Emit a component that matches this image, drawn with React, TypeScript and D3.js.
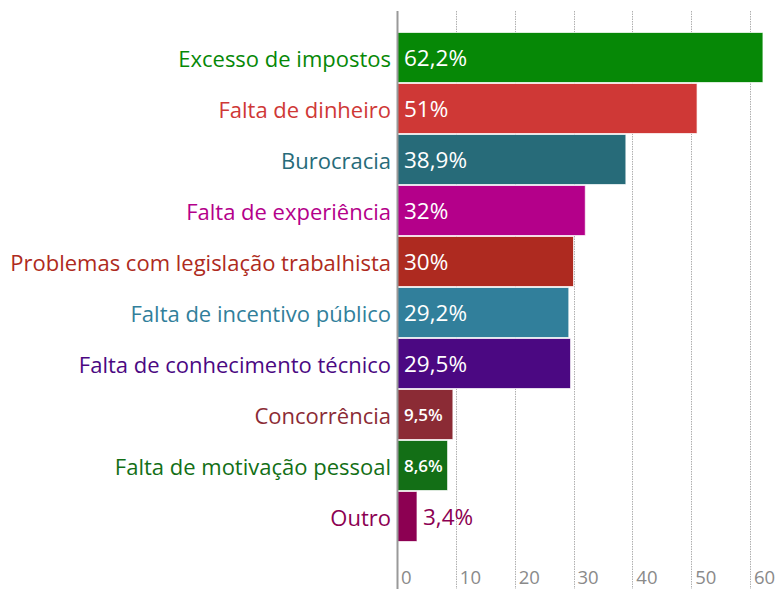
import React from "react";
import * as d3 from "d3";

const categories = [
  "Excesso de impostos",
  "Falta de dinheiro",
  "Burocracia",
  "Falta de experiência",
  "Problemas com legislação trabalhista",
  "Falta de incentivo público",
  "Falta de conhecimento técnico",
  "Concorrência",
  "Falta de motivação pessoal",
  "Outro",
];
const values = [62.2, 51, 38.9, 32, 30, 29.2, 29.5, 9.5, 8.6, 3.4];
const valueLabels = ["62,2%", "51%", "38,9%", "32%", "30%", "29,2%", "29,5%", "9,5%", "8,6%", "3,4%"];
const colors = [
  "#068806",
  "#cf3836",
  "#276b79",
  "#b4008a",
  "#ae2a20",
  "#317f9b",
  "#4b0882",
  "#8b2b35",
  "#136f16",
  "#8c0052",
];
const ticks = [0, 10, 20, 30, 40, 50, 60];

const W = 780;
const H = 589;
const FONT = "'Open Sans', sans-serif";

export default function App() {
  const x = d3.scaleLinear().domain([0, 60]).range([397, 750]);
  const y = d3
    .scaleBand<string>()
    .domain(categories)
    .range([32, 32 + 51 * categories.length])
    .padding(0);

  return (
    <svg
      width={W}
      height={H}
      style={{ position: "absolute", left: 0, top: 0, background: "#fff" }}
    >
      {ticks.slice(1).map((t) => (
        <line
          key={"g" + t}
          x1={Math.round(x(t)) + 0.5}
          x2={Math.round(x(t)) + 0.5}
          y1={11}
          y2={H}
          stroke="#b0b0b0"
          strokeWidth={1}
          strokeDasharray="1.5,1"
        />
      ))}
      {categories.map((c, i) => {
        const bw = x(values[i]) - x(0);
        const yy = y(c)!;
        const bh = y.bandwidth();
        const small = values[i] < 12 && values[i] > 5;
        const outside = values[i] <= 5;
        return (
          <g key={c}>
            <rect
              x={x(0)}
              y={yy + 0.5}
              width={bw}
              height={bh - 1}
              fill={colors[i]}
              stroke="rgba(255,255,255,0.7)"
              strokeWidth={1}
            />
            <text
              x={391}
              y={yy + bh / 2}
              textAnchor="end"
              dominantBaseline="central"
              fill={colors[i]}
              fontFamily={FONT}
              fontSize={22}
            >
              {c}
            </text>
            <text
              x={outside ? x(values[i]) + 6 : x(0) + 7}
              y={yy + bh / 2}
              dominantBaseline="central"
              fill={outside ? colors[i] : "#fff"}
              fontFamily={FONT}
              fontSize={small ? 17 : 22.5}
              fontWeight={small ? 600 : 400}
            >
              {valueLabels[i]}
            </text>
          </g>
        );
      })}
      <line x1={397.5} x2={397.5} y1={11} y2={H} stroke="#999" strokeWidth={2} />
      {ticks.map((t) => (
        <text
          key={"t" + t}
          x={x(t) + 4}
          y={584}
          fill="#8a8a8a"
          fontFamily={FONT}
          fontSize={18.5}
        >
          {t}
        </text>
      ))}
    </svg>
  );
}
